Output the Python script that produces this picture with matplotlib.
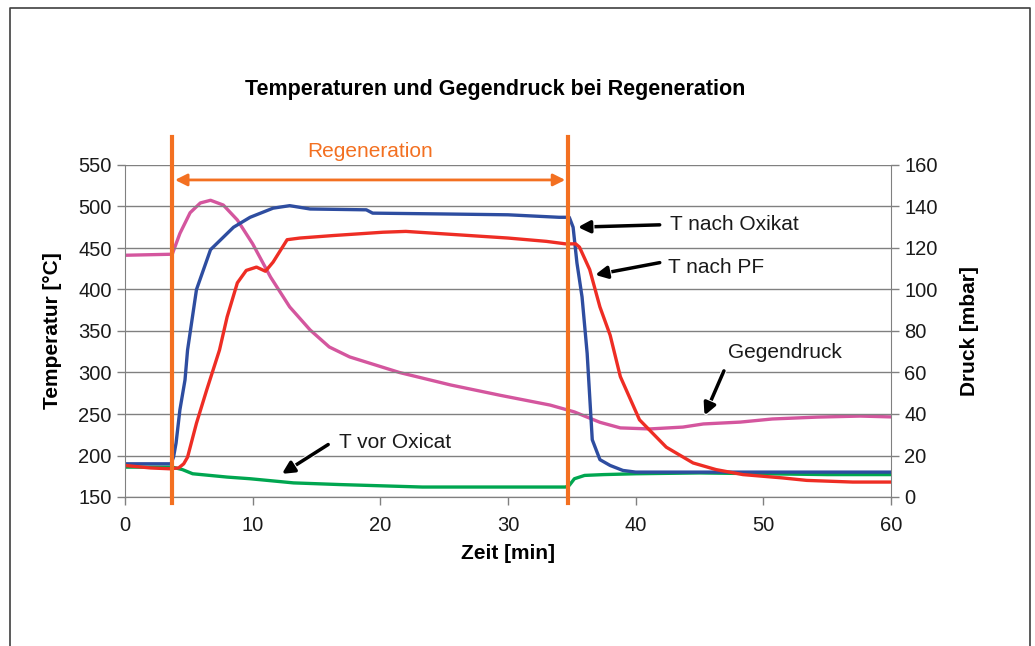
import matplotlib
matplotlib.use("Agg")
import matplotlib.pyplot as plt
from matplotlib.lines import Line2D
import matplotlib.patheffects as pe

plt.rcParams['font.family'] = ['Liberation Sans', 'DejaVu Sans']

# T nach Oxikat (blau)
t_oxi = [0, 3.6, 3.8, 4.0, 4.3, 4.7, 4.9, 5.6, 6.7, 8.5, 9.8, 11.6, 12.9, 14.5, 18.9, 19.4,
         25, 30, 34.0, 34.8, 35.1, 35.4, 35.8, 36.2, 36.6, 37.2, 38, 39, 40, 45, 50, 55, 60]
T_oxi = [190, 190, 198, 215, 255, 291, 327, 400, 448, 475, 487, 498, 501, 497, 496, 492,
         491, 490, 487, 487, 475, 432, 391, 323, 219, 195, 188, 182, 180, 180, 180, 180, 180]

# T nach PF (rot)
t_pf = [0, 2, 3.5, 4.2, 4.6, 4.9, 5.6, 6.4, 7.4, 8.0, 8.8, 9.5, 10.3, 11.0, 11.6, 12.7, 13.7,
        16.3, 20.2, 22, 25, 30, 33, 34.5, 35.3, 35.6, 36.4, 37.2, 38.0, 38.8, 40.3, 42.4,
        44.5, 46.3, 48.4, 51.5, 53.4, 57, 60]
T_pf = [188, 185, 184, 185, 190, 198, 239, 279, 327, 367, 408, 423, 427, 422, 433, 460, 462,
        465, 469, 470, 467, 462, 458, 455, 455, 451, 424, 379, 345, 295, 243, 210,
        191, 183, 177, 173, 170, 168, 168]

# T vor Oxicat (gruen)
t_vor = [0, 3.7, 4.5, 5.3, 8, 9.8, 13.2, 16.8, 23.3, 30, 34.5, 34.8, 35.2, 36, 37.5, 40,
         45, 50, 55, 60]
T_vor = [186, 186, 183, 178, 174, 172, 167, 165, 162, 162, 162, 164, 172, 176, 177, 178,
         179, 178, 177, 177]

# Gegendruck (mbar)
t_p = [0, 3.7, 4.3, 5.1, 5.9, 6.7, 7.7, 8.8, 10, 11.4, 12.9, 14.5, 16, 17.6, 21.5, 25.5,
       29.4, 33.3, 35.2, 37.2, 38.8, 41.1, 43.7, 45.3, 48.2, 50.7, 54.2, 57.6, 60]
p_gd = [116.5, 117, 127, 137, 141.7, 143, 140.7, 133.5, 122, 106, 91.6, 80.5, 72.3, 67.5,
        60, 54, 49, 44.3, 41, 36, 33.3, 32.8, 33.7, 35.2, 36.1, 37.6, 38.5, 39, 38.6]

reg_start = 3.7
reg_end = 34.7

orange = '#F37021'
grey = '#808080'
fs = 15

fig = plt.figure(figsize=(10.35, 6.46), dpi=100)
ax = fig.add_axes([125 / 1035, 1 - 497 / 646, (891 - 125) / 1035, (497 - 165) / 646])
ax2 = ax.twinx()
ax.set_zorder(ax2.get_zorder() + 1)
ax.patch.set_visible(False)

# Rahmen um das Diagramm
fig.add_artist(Line2D([10 / 1035, 10 / 1035, 1030 / 1035, 1030 / 1035],
                      [0, 1 - 8 / 646, 1 - 8 / 646, 0], color='#404040', lw=1.2))

ax2.plot(t_p, p_gd, color='#D4569E', lw=2.4)
ax.plot(t_vor, T_vor, color='#00A650', lw=2.4)
ax.plot(t_oxi, T_oxi, color='#2E4DA0', lw=2.4)
ax.plot(t_pf, T_pf, color='#EE2D24', lw=2.4)

ax.set_xlim(0, 60)
ax.set_ylim(150, 550)
ax2.set_ylim(0, 160)
ax.set_xticks(range(0, 61, 10))
ax.set_yticks(range(150, 551, 50))
ax2.set_yticks(range(0, 161, 20))
ax.grid(axis='y', color=grey, lw=1)

for a in (ax, ax2):
    a.spines['top'].set_visible(False)
    for s in ('left', 'right', 'bottom'):
        a.spines[s].set_color(grey)
    a.tick_params(colors=grey, labelcolor='#1a1a1a', labelsize=14.5, length=6, width=1)
ax.spines['right'].set_visible(False)
ax2.spines['left'].set_visible(False)
ax.tick_params(axis='x', pad=8)

ax.set_xlabel('Zeit [min]', fontsize=fs, fontweight='bold', labelpad=6)
ax.set_ylabel('Temperatur [°C]', fontsize=fs, fontweight='bold', labelpad=12)
ax2.set_ylabel('Druck [mbar]', fontsize=fs, fontweight='bold', labelpad=16)
fig.text(495 / 1035, 1 - 89 / 646, 'Temperaturen und Gegendruck bei Regeneration',
         ha='center', va='center', fontsize=15.5, fontweight='bold')

# Regenerationsphase
for t in (reg_start, reg_end):
    ax.plot([t, t], [143, 584], color=orange, lw=3, clip_on=False, zorder=5)
ax.annotate('', xy=(reg_start, 532), xytext=(reg_end, 532),
            arrowprops=dict(arrowstyle='<|-|>', color=orange, lw=2, mutation_scale=18),
            zorder=6)
ax.text((reg_start + reg_end) / 2, 566, 'Regeneration', color=orange, fontsize=fs,
        ha='center', va='center')

# Beschriftungen mit Pfeilen
arrow = dict(arrowstyle='-|>', color='black', lw=2.5, mutation_scale=18,
             path_effects=[pe.withStroke(linewidth=4, foreground='white')])
notes = [('T nach Oxikat', (35.25, 475), (42.1, 478), (42.7, 478)),
         ('T nach PF', (36.6, 417), (42.1, 433), (42.5, 426)),
         ('Gegendruck', (45.3, 245), (47.0, 305), (47.2, 324)),
         ('T vor Oxicat', (12.1, 176), (16.1, 215), (16.8, 216))]
for label, tip, tail, pos in notes:
    ax.annotate('', xy=tip, xytext=tail, arrowprops=arrow, zorder=7)
    ax.text(pos[0], pos[1], label, fontsize=fs, ha='left', va='center', color='#1a1a1a')

fig.savefig('out.png', dpi=100)
